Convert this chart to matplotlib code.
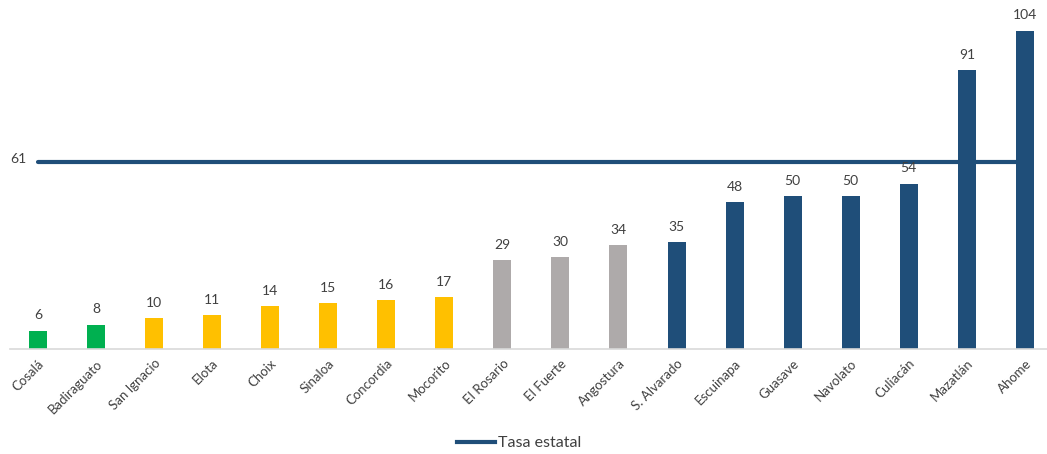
import matplotlib
matplotlib.use("Agg")
import matplotlib.pyplot as plt
from matplotlib.lines import Line2D

plt.rcParams['font.family'] = ['Lato', 'DejaVu Sans']

municipios = ["Cosalá", "Badiraguato", "San Ignacio", "Elota", "Choix", "Sinaloa",
              "Concordia", "Mocorito", "El Rosario", "El Fuerte", "Angostura",
              "S. Alvarado", "Escuinapa", "Guasave", "Navolato", "Culiacán",
              "Mazatlán", "Ahome"]
tasas = [6, 8, 10, 11, 14, 15, 16, 17, 29, 30, 34, 35, 48, 50, 50, 54, 91, 104]
grupo = ["verde", "verde", "amarillo", "amarillo", "amarillo", "amarillo",
         "amarillo", "amarillo", "gris", "gris", "gris", "azul", "azul", "azul",
         "azul", "azul", "azul", "azul"]
tasa_estatal = 61
paleta = {"verde": "#00B050", "amarillo": "#FFC000", "gris": "#AEAAAA", "azul": "#1F4E79"}

W, H = 1047, 454
fig = plt.figure(figsize=(W / 100, H / 100), dpi=100)
ax = fig.add_axes([10 / W, (H - 349) / H, 1 - 10 / W, 349 / H])

x = list(range(len(municipios)))
ax.plot([x[0], x[-1]], [tasa_estatal] * 2, color="#1F4E79", lw=3, zorder=1,
        solid_capstyle='round')
ax.bar(x, tasas, width=0.31, color=[paleta[g] for g in grupo], zorder=2)

for xi, v in zip(x, tasas):
    ax.text(xi, v + 3, str(v), ha='center', va='bottom', fontsize=10, color="#404040")

ax.text(-0.2, tasa_estatal + 1, str(tasa_estatal), ha='right', va='center',
        fontsize=10, color="#404040")

ax.set_xlim(-0.48, 17.38)
ax.set_ylim(0, 114)
ax.set_xticks(x)
ax.set_xticklabels(municipios, rotation=45, ha='right', rotation_mode='anchor',
                   fontsize=9.5, color="#404040")
ax.tick_params(axis='x', length=0, pad=6)
ax.set_yticks([])
for s in ['top', 'right', 'left']:
    ax.spines[s].set_visible(False)
ax.spines['bottom'].set_color("#D9D9D9")
ax.spines['bottom'].set_linewidth(1.2)

handle = Line2D([], [], color="#1F4E79", lw=3)
fig.legend([handle], ["Tasa estatal"], loc='center', bbox_to_anchor=(519 / W, 1 - 443 / H),
           frameon=False, fontsize=11.5, handlelength=2.4, handletextpad=0.2,
           labelcolor="#404040")

fig.savefig("out.png", dpi=100)
